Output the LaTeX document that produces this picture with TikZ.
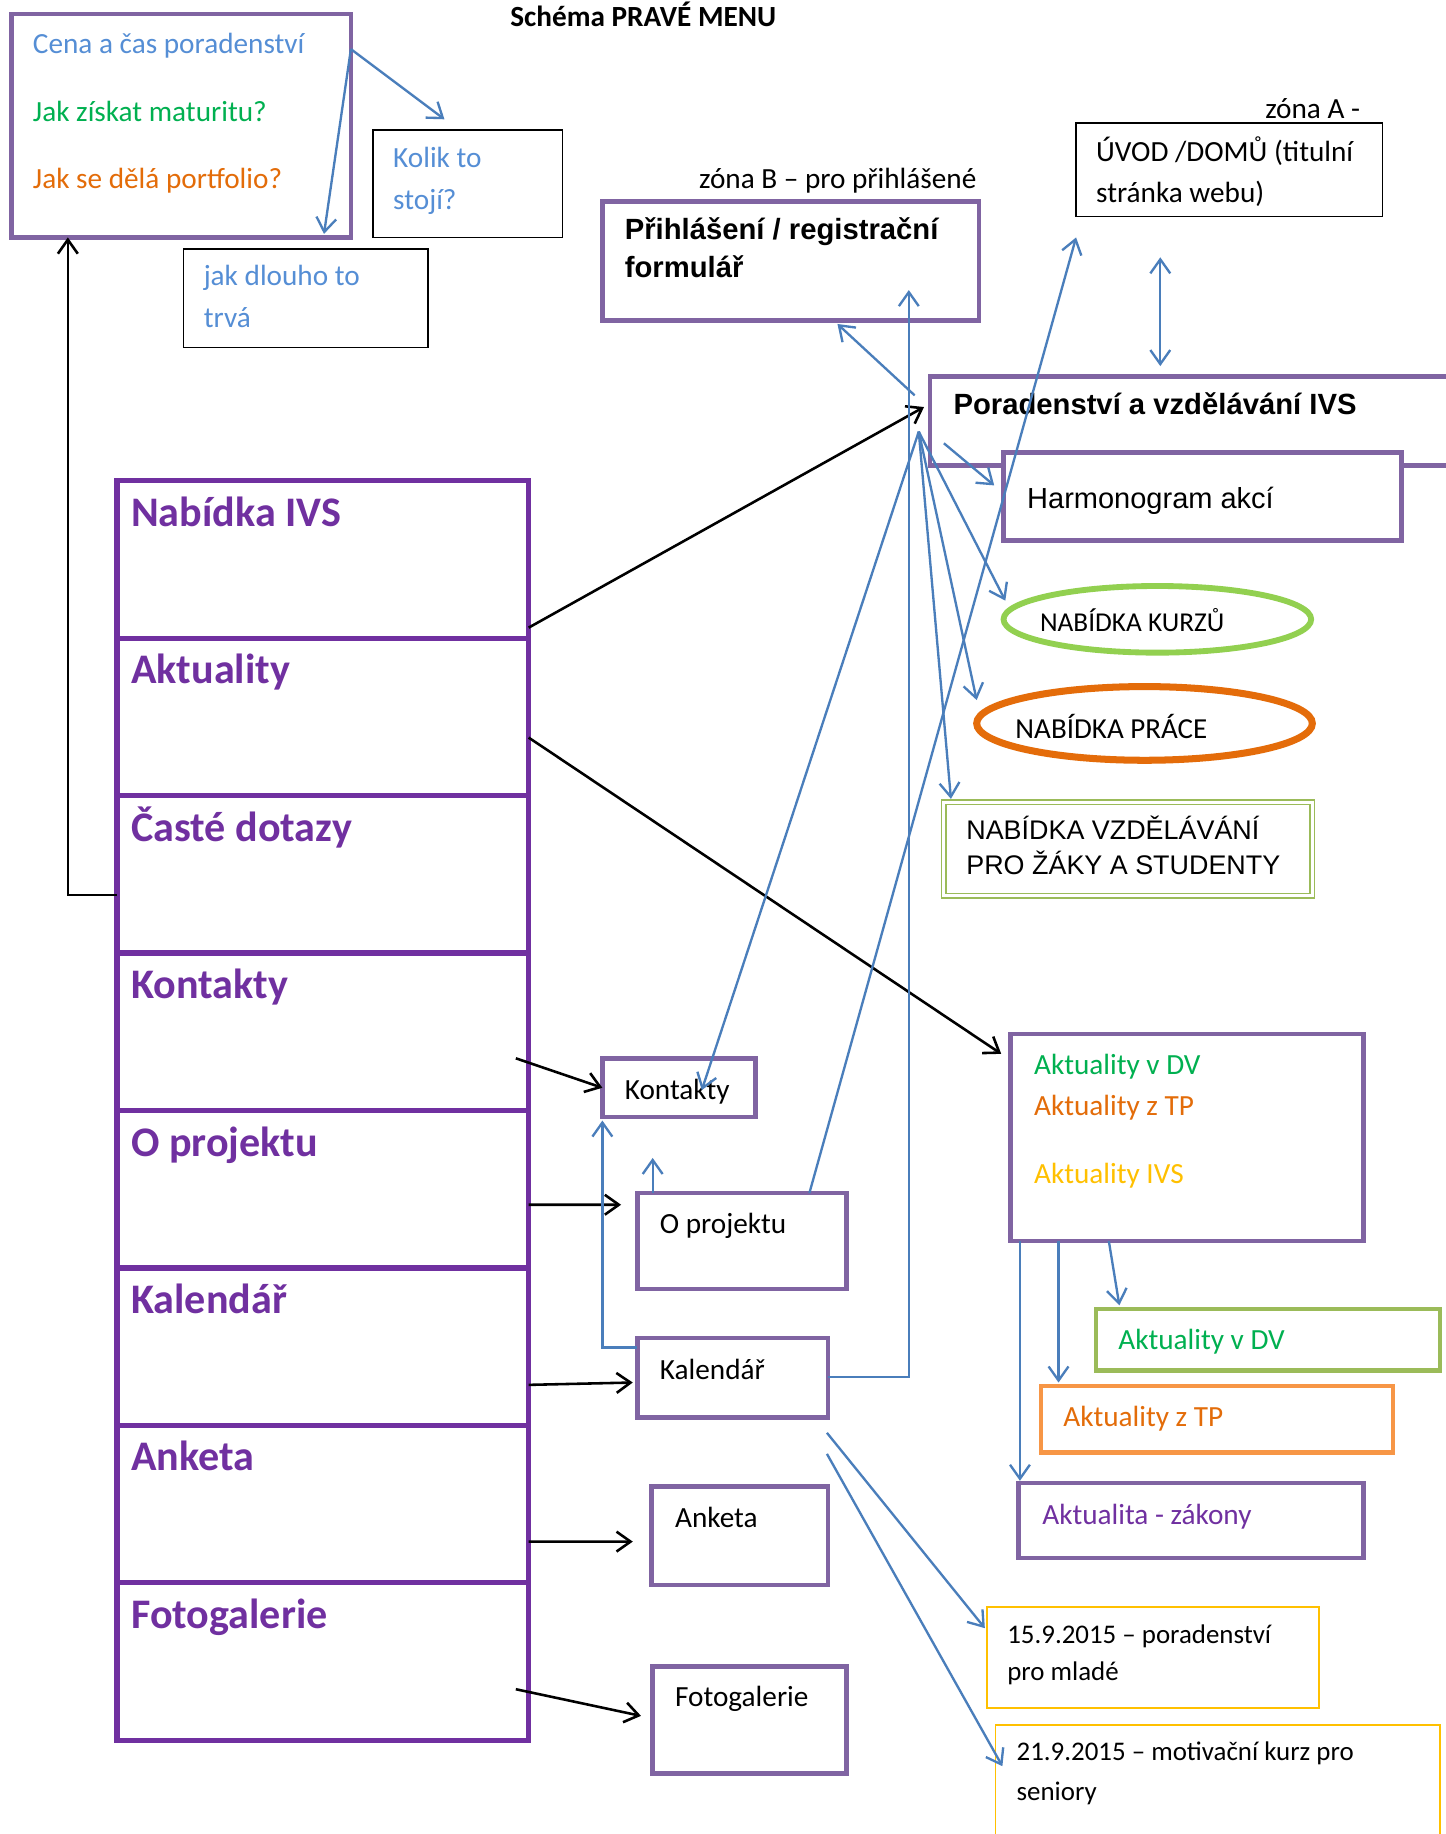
\documentclass[tikz,border=0pt]{standalone}
\usepackage{fontspec}
\setmainfont{Carlito}
\newfontfamily\arialfont{Liberation Sans}
\usetikzlibrary{arrows.meta,calc,shapes.geometric}
\definecolor{boxpurple}{HTML}{8064A2}
\definecolor{menupurple}{HTML}{7030A0}
\definecolor{arrblue}{HTML}{4A7EBB}
\definecolor{txtblue}{HTML}{558ED5}
\definecolor{txtgreen}{HTML}{00B050}
\definecolor{txtorange}{HTML}{E36C09}
\definecolor{txtyellow}{HTML}{FFC000}
\definecolor{kgreen}{HTML}{92D050}
\definecolor{porange}{HTML}{E46C0A}
\definecolor{olgreen}{HTML}{9BBB59}
\definecolor{lorange}{HTML}{F79646}
\begin{document}
\begin{tikzpicture}[x=1pt,y=-1pt,
  frame/.style={draw=boxpurple, line width=4pt, inner sep=0pt, outer sep=0pt, anchor=north west},
  thinframe/.style={draw=black, line width=1.2pt, inner sep=0pt, outer sep=0pt, anchor=north west},
  menurow/.style={draw=menupurple, line width=4.5pt, inner sep=0pt, outer sep=0pt, anchor=north west, minimum width=352pt, minimum height=134.6pt},
  txt/.style={inner sep=0pt, anchor=base west, font=\fontsize{25}{30}\selectfont},
  atxt/.style={inner sep=0pt, anchor=base west, font=\arialfont\fontsize{25}{30}\selectfont},
  mtxt/.style={inner sep=0pt, anchor=base west, text=menupurple, font=\bfseries\fontsize{36}{42}\selectfont},
  tip/.tip={Straight Barb[length=12pt,width=17pt]},
  bluearr/.style={draw=arrblue, line width=2pt, -tip},
  blackarr/.style={draw=black, line width=2.2pt, -tip},
]
\useasboundingbox (0,0) rectangle (1236,1568);
\fill[white] (0,0) rectangle (1236,1568);

% title
\node[inner sep=0pt, anchor=base, font=\bfseries\fontsize{25}{30}\selectfont] (title) at (550,23) {Schéma PRAVÉ MENU};

% FAQ box
\node[frame, minimum width=290pt, minimum height=191pt] (faq) at (10,12) {};
\node[txt, text=txtblue] (faq1) at (28,46) {Cena a čas poradenství};
\node[txt, text=txtgreen] (faq2) at (28,104) {Jak získat maturitu?};
\node[txt, text=txtorange] (faq3) at (28,161) {Jak se dělá portfolio?};

\node[thinframe, minimum width=162pt, minimum height=92pt] (kolik) at (319,111) {};
\node[txt, text=txtblue] (kolik1) at (336,143) {Kolik to};
\node[txt, text=txtblue] (kolik2) at (336,179) {stojí?};

\node[thinframe, minimum width=209pt, minimum height=84pt] (jak) at (157,213) {};
\node[txt, text=txtblue] (jak1) at (174,244) {jak dlouho to};
\node[txt, text=txtblue] (jak2) at (174,280) {trvá};

% zone B
\node[inner sep=0pt, anchor=base east, font=\fontsize{25}{30}\selectfont] (zonab) at (835,161) {zóna B – pro přihlášené};
\node[frame, minimum width=322pt, minimum height=102pt] (prihl) at (515,172) {};
\node[atxt, font=\arialfont\bfseries\fontsize{25}{30}\selectfont] (prihl1) at (534,205) {Přihlášení / registrační};
\node[atxt, font=\arialfont\bfseries\fontsize{25}{30}\selectfont] (prihl2) at (534,237) {formulář};

% zone A
\node[inner sep=0pt, anchor=base east, font=\fontsize{25}{30}\selectfont] (zonaa) at (1163,101) {zóna A -};
\node[thinframe, minimum width=262pt, minimum height=80pt] (uvod) at (920,105) {};
\node[txt] (uvod1) at (937,138) {ÚVOD /DOMŮ (titulní};
\node[txt] (uvod2) at (937,173) {stránka webu)};

% Poradenstvi
\node[frame, minimum width=465pt, minimum height=76pt] (porad) at (795,322) {};
\node[atxt, font=\arialfont\bfseries\fontsize{25}{30}\selectfont] (porad1) at (815,354) {Poradenství a vzdělávání IVS};
\node[frame, fill=white, minimum width=340pt, minimum height=75pt] (harm) at (858,387) {};
\node[atxt, font=\arialfont\fontsize{24.8}{30}\selectfont] (harm1) at (878,435) {Harmonogram akcí};

\node[draw=kgreen, line width=5pt, ellipse, inner sep=0pt, minimum width=263pt, minimum height=57pt] (kurzy) at (989.5,529.5) {};
\node[txt, font=\fontsize{23.3}{30}\selectfont] (kurzy1) at (889,540) {NABÍDKA KURZŮ};
\node[draw=porange, line width=6pt, ellipse, inner sep=0pt, minimum width=287pt, minimum height=63pt] (prace) at (978.5,618.5) {};
\node[txt, font=\fontsize{24.8}{30}\selectfont] (prace1) at (868,631) {NABÍDKA PRÁCE};

\node[draw=olgreen, double=white, double distance=2.5pt, line width=1.3pt, inner sep=0pt, outer sep=0pt, anchor=north west, minimum width=315pt, minimum height=80pt] (vzdel) at (807,686) {};
\node[atxt, font=\arialfont\fontsize{23}{30}\selectfont] (vzdel1) at (826,718) {NABÍDKA VZDĚLÁVÁNÍ};
\node[atxt, font=\arialfont\fontsize{23}{30}\selectfont] (vzdel2) at (826,748) {PRO ŽÁKY A STUDENTY};

% Aktuality
\node[frame, minimum width=302pt, minimum height=177pt] (aktual) at (864,884) {};
\node[txt, text=txtgreen] (aktual1) at (884,919) {Aktuality v DV};
\node[txt, text=txtorange] (aktual2) at (884,954) {Aktuality z TP};
\node[txt, text=txtyellow] (aktual3) at (884,1012) {Aktuality IVS};

\node[draw=olgreen, line width=4pt, inner sep=0pt, outer sep=0pt, anchor=north west, minimum width=294pt, minimum height=53pt] (vdv) at (937,1119) {};
\node[txt, text=txtgreen] (vdv1) at (956,1154) {Aktuality v DV};
\node[draw=lorange, line width=4pt, inner sep=0pt, outer sep=0pt, anchor=north west, minimum width=301pt, minimum height=57pt] (ztp) at (890,1185) {};
\node[txt, text=txtorange] (ztp1) at (909,1220) {Aktuality z TP};
\node[frame, minimum width=295pt, minimum height=64pt] (zakony) at (871,1268) {};
\node[txt, text=menupurple] (zakony1) at (891,1303) {Aktualita - zákony};

\node[draw=txtyellow, line width=1.5pt, inner sep=0pt, outer sep=0pt, anchor=north west, minimum width=284pt, minimum height=86pt] (d15) at (844,1374) {};
\node[txt, font=\fontsize{23}{30}\selectfont] (d15a) at (861,1405) {15.9.2015 – poradenství};
\node[txt, font=\fontsize{23}{30}\selectfont] (d15b) at (861,1437) {pro mladé};
\node[draw=txtyellow, line width=1.5pt, inner sep=0pt, outer sep=0pt, anchor=north west, minimum width=380pt, minimum height=110pt] (d21) at (851,1475) {};
\node[txt, font=\fontsize{23}{30}\selectfont] (d21a) at (869,1505) {21.9.2015 – motivační kurz pro};
\node[txt, font=\fontsize{23}{30}\selectfont] (d21b) at (869,1539) {seniory};

% sub pages
\node[frame, minimum width=131pt, minimum height=50pt] (kont) at (515,905) {};
\node[txt] (kont1) at (534,940) {Kontakty};
\node[frame, minimum width=179pt, minimum height=82pt] (oproj) at (545,1020) {};
\node[txt] (oproj1) at (564,1055) {O projektu};
\node[frame, minimum width=163pt, minimum height=68pt] (kal) at (545,1144) {};
\node[txt] (kal1) at (564,1179) {Kalendář};
\node[frame, minimum width=151pt, minimum height=84pt] (anketa) at (557,1271) {};
\node[txt] (anketa1) at (577,1306) {Anketa};
\node[frame, minimum width=166pt, minimum height=91pt] (foto) at (558,1425) {};
\node[txt] (foto1) at (577,1459) {Fotogalerie};

% menu column
\foreach \t [count=\i from 0] in {Nabídka IVS,Aktuality,Časté dotazy,Kontakty,O projektu,Kalendář,Anketa,Fotogalerie}{
  \node[menurow] (m\i) at (100,{411+134.6*\i}) {};
  \node[mtxt] (mt\i) at (112,{450+134.6*\i}) {\t};
}

% black connectors
\draw[blackarr] ($(m2.west)+(0,17.5)$) -| ($(faq.south west)+(48,0)$);
\draw[blackarr] ($(m0.south east)+(0,-9)$) -- ($(porad.north west)+(-5,26)$);
\draw[blackarr] ($(m1.north east)+(0,85)$) -- ($(aktual.north west)+(-8,17)$);
\draw[blackarr] ($(m3.north east)+(-11,90)$) -- (kont.west);
\draw[blackarr] ($(m4.north east)+(0,80.6)$) -- ($(oproj.north west)+(-14,10)$);
\draw[blackarr] ($(m5.north east)+(0,100)$) -- ($(kal.west)+(-4,4)$);
\draw[blackarr] ($(m6.north east)+(0,99.4)$) -- ($(anketa.north west)+(-16,47)$);
\draw[blackarr] ($(m7.north east)+(-11,91)$) -- ($(foto.north west)+(-10,42)$);

% blue connectors
\draw[bluearr] ($(faq.north east)+(0,30)$) -- ($(kolik.north)+(-20,-9)$);
\draw[bluearr] ($(faq.north east)+(0,30)$) -- ($(faq.south east)+(-23,-3)$);
\draw[draw=arrblue, line width=2pt, tip-tip] ($(uvod.south west)+(72,35)$) -- ($(porad.north west)+(197,-9)$);
\draw[bluearr] ($(porad.north west)+(-13,16)$) -- ($(prihl.south)+(40,3)$);
\draw[bluearr] ($(kal.east)+(0,-1)$) -| ($(prihl.south east)+(-60,-26)$);
\draw[bluearr] ($(kal.north west)+(0,8)$) -| ($(kont.south west)+(0,3)$);
\draw[bluearr] ($(oproj.north west)+(13,0)$) -- ($(oproj.north west)+(13,-30)$);
\draw[bluearr] ($(oproj.north east)+(-32,0)$) -- ($(uvod.south west)+(0,18)$);
\coordinate (fan) at ($(porad.north west)+(-9.5,47)$);
\draw[bluearr] (fan) -- ($(kont.north)+(19.5,27)$);
\draw[bluearr] (fan) -- ($(kurzy.west)+(4,-16)$);
\draw[bluearr] (fan) -- ($(prace.west)+(3,-20)$);
\draw[bluearr] (fan) -- ($(vzdel.north west)+(6,-3)$);
\draw[bluearr] ($(porad.north west)+(12,57)$) -- ($(harm.north west)+(-8,28)$);
\draw[bluearr] ($(aktual.south west)+(8,0)$) -- ($(zakony.north west)+(1,-2)$);
\draw[bluearr] ($(aktual.south west)+(41,0)$) -- ($(ztp.north west)+(15,-3)$);
\draw[bluearr] ($(aktual.south west)+(84,0)$) -- ($(vdv.north west)+(20,-3)$);
\draw[bluearr] ($(kal.south east)+(-1,13)$) -- ($(d15.west)+(-2,-25)$);
\draw[bluearr] ($(kal.south east)+(-1,31)$) -- ($(d21.north west)+(6,35)$);
\end{tikzpicture}
\end{document}
